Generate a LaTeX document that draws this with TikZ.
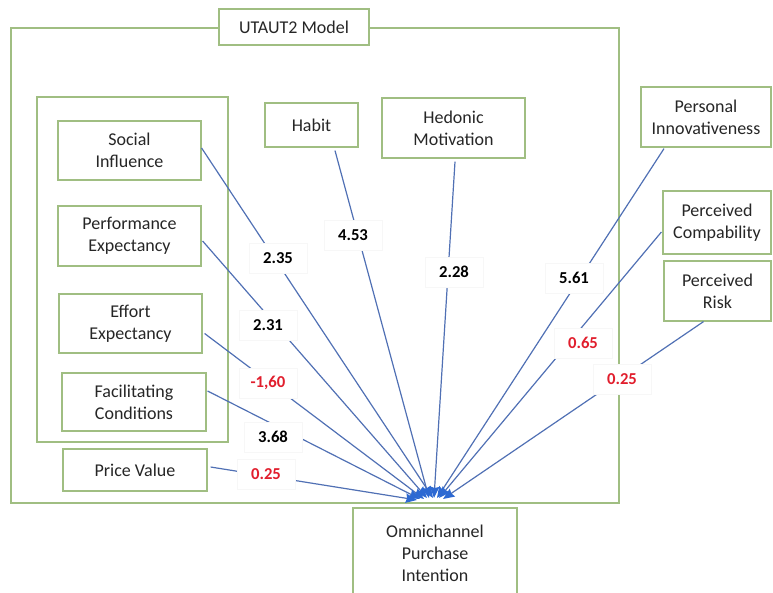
\documentclass[tikz,border=0pt]{standalone}
\usepackage{fontspec}
\setmainfont{Carlito}
\usetikzlibrary{arrows.meta,calc}
\definecolor{boxgreen}{RGB}{160,190,130}
\definecolor{lineblue}{RGB}{80,112,180}
\definecolor{tipblue}{RGB}{45,105,210}
\definecolor{numred}{RGB}{225,30,45}
\begin{document}
\begin{tikzpicture}[x=0.75pt,y=-0.75pt,
  wh/.style 2 args={minimum width=#1*0.75pt, minimum height=#2*0.75pt},
  box/.style={draw=boxgreen, line width=0.9pt, fill=white, align=center,
    font=\fontsize{13.5}{16.5}\selectfont, text=black!85, inner sep=0pt},
  frame/.style={draw=boxgreen, line width=0.9pt},
  link/.style={draw=lineblue, line width=0.9pt,
    -{Stealth[length=8.5pt,width=7pt,inset=1pt,color=tipblue]}},
  lbl/.style={fill=white, draw=black!3, line width=0.4pt,
    font=\bfseries\fontsize{12.5}{14}\selectfont, text=black,
    inner sep=0pt, wh={58}{30}},
  redlbl/.style={lbl, text=numred}]
\clip (0,0) rectangle (773,592);
% frames
\draw[frame] (11,28) rectangle (619,503);
\draw[frame] (37,97) rectangle (228,442);
% nodes
\node[box, wh={150}{36}] (title) at (294,27) {UTAUT2 Model};
\node[box, wh={143}{59}] (social) at (129.5,150.5) {Social\\Influence};
\node[box, wh={143}{60}] (perf) at (129.5,236) {Performance\\Expectancy};
\node[box, wh={143}{59}] (effort) at (130.5,323.5) {Effort\\Expectancy};
\node[box, wh={144}{58}] (facil) at (134,402) {Facilitating\\Conditions};
\node[box, wh={144}{42}] (price) at (135,470) {Price Value};
\node[box, wh={93}{44}] (habit) at (311.5,125) {Habit};
\node[box, wh={143}{60}] (hedonic) at (453.5,128) {Hedonic\\Motivation};
\node[box, wh={130}{60}] (personal) at (706,117) {Personal\\Innovativeness};
\node[box, wh={108}{63}] (compab) at (717,222.5) {Perceived\\Compability};
\node[box, wh={107}{60}] (risk) at (717.5,291) {Perceived\\Risk};
\node[box, wh={164}{90}] (omni) at (435,553) {Omnichannel\\Purchase\\Intention};
% arrow end points
\coordinate (eSoc) at (433,498);
\coordinate (eHab) at (429,498);
\coordinate (eHed) at (434,498);
\coordinate (ePer) at (437,498);
\coordinate (eCom) at (439,498);
\coordinate (eRisk) at (443,499);
\coordinate (ePerf) at (427,498);
\coordinate (eEff) at (424,499);
\coordinate (eFac) at (420,499);
\coordinate (ePri) at (417,500);
% connectors
\draw[link] ($(social.east)+(0,-2.5)$) -- (eSoc);
\draw[link] ($(habit.south)+(23.5,3)$) -- (eHab);
\draw[link] ($(hedonic.south)+(1.5,3)$) -- (eHed);
\draw[link] ($(personal.south)+(-42,1)$) -- (ePer);
\draw[link] ($(compab.west)+(-1,9.5)$) -- (eCom);
\draw[link] ($(risk.south)+(-14,0)$) -- (eRisk);
\draw[link] ($(perf.east)+(1,5)$) -- (ePerf);
\draw[link] ($(effort.east)+(2,10)$) -- (eEff);
\draw[link] ($(facil.east)+(1,-11)$) -- (eFac);
\draw[link] ($(price.east)+(3,-3)$) -- (ePri);
% labels
\node[lbl] (lSoc) at (278,258) {2.35};
\node[lbl] (lHab) at (353,235) {4.53};
\node[lbl] (lHed) at (454,272) {2.28};
\node[lbl] (lPer) at (574,278) {5.61};
\node[lbl] (lPerf) at (268,325) {2.31};
\node[redlbl] (lEff) at (268,383) {-1,60};
\node[lbl] (lFac) at (273,437) {3.68};
\node[redlbl] (lPri) at (266,474) {0.25};
\node[redlbl] (lCom) at (583,343) {0.65};
\node[redlbl] (lRisk) at (622,379) {0.25};
\end{tikzpicture}
\end{document}
